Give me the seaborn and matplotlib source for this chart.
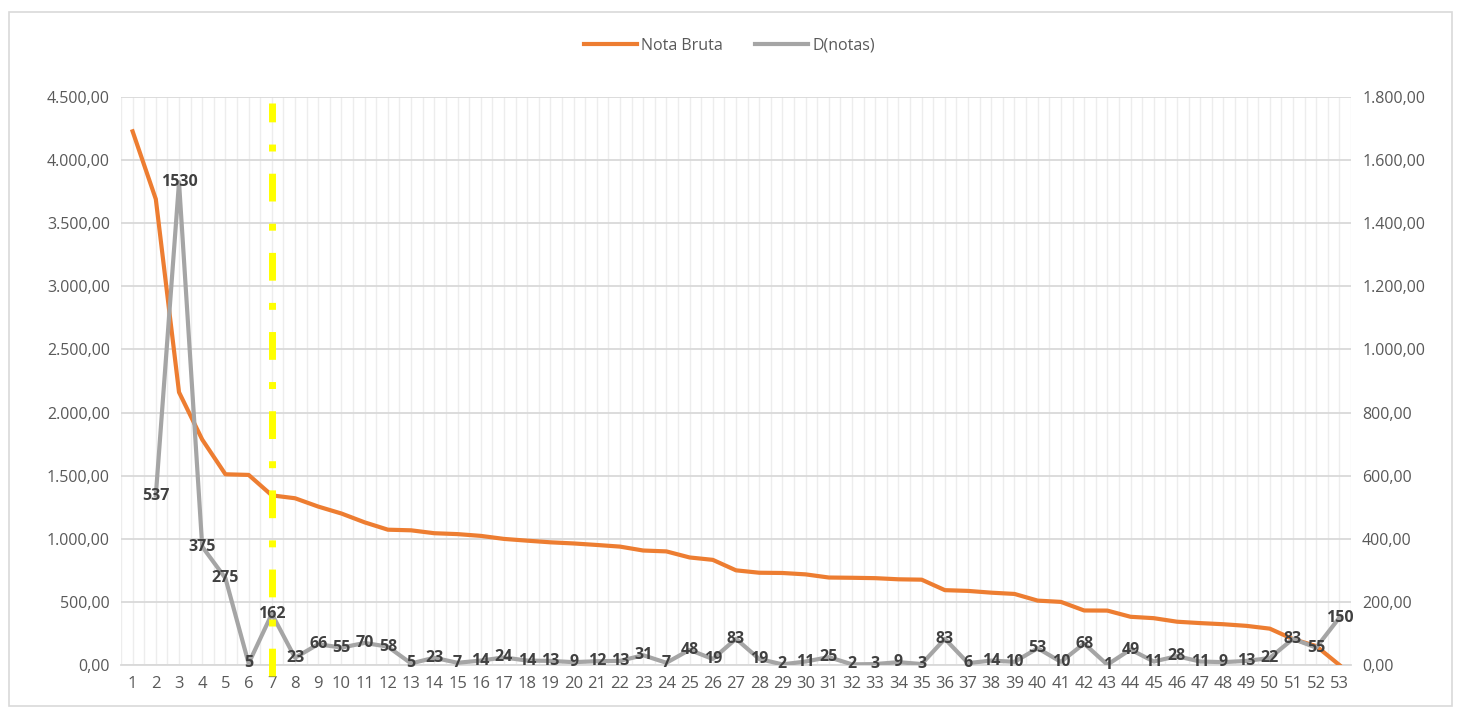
# Nota Bruta vs D(notas), Excel-style combo with secondary axis
import seaborn as sns
import pandas as pd
import matplotlib.pyplot as plt
from matplotlib.patches import Rectangle
from matplotlib.ticker import FuncFormatter, MultipleLocator

posicao = list(range(1, 54))

nota_bruta = [4228, 3691, 2161, 1786, 1511, 1506, 1344, 1321, 1255, 1200,
              1130, 1072, 1067, 1044, 1037, 1023, 999, 985, 972, 963,
              951, 938, 907, 900, 852, 833, 750, 731, 729, 718,
              693, 691, 688, 679, 676, 593, 587, 573, 563, 510,
              500, 432, 431, 382, 371, 343, 332, 323, 310, 288,
              205, 150, 0]

pos_d = list(range(2, 54))
d_notas = [537, 1530, 375, 275, 5, 162, 23, 66, 55, 70,
           58, 5, 23, 7, 14, 24, 14, 13, 9, 12,
           13, 31, 7, 48, 19, 83, 19, 2, 11, 25,
           2, 3, 9, 3, 83, 6, 14, 10, 53, 10,
           68, 1, 49, 11, 28, 11, 9, 13, 22, 83,
           55, 150]

corte = 7

df_nota = pd.DataFrame({"pos": posicao, "nota": nota_bruta})
df_d = pd.DataFrame({"pos": pos_d, "d": d_notas})

orange = '#ED7D31'
grey = '#A5A5A5'
txt = '#595959'

plt.rcParams['font.family'] = ['Open Sans', 'DejaVu Sans']

fig = plt.figure(figsize=(14.59, 7.13), dpi=100)
ax = fig.add_axes([121/1459, 1-665/713, (1351-121)/1459, (665-97)/713])
ax2 = ax.twinx()

# outer chart border
fig.patches.append(Rectangle((9/1459, 1-706/713), 1443/1459, 694/713,
                             transform=fig.transFigure, fill=False,
                             edgecolor='#D9D9D9', linewidth=1.2))

def br_fmt(v, pos):
    s = f"{v:,.2f}"
    return s.replace(',', 'X').replace('.', ',').replace('X', '.')

# gridlines
for xg in [i * 0.5 for i in range(1, 108)]:
    ax.axvline(xg, color='#EDEDED', linewidth=1.0, zorder=0)
ax.set_ylim(0, 4500)
ax.yaxis.set_major_locator(MultipleLocator(500))
ax.yaxis.grid(True, color='#D9D9D9', linewidth=1.3)
ax.set_axisbelow(True)

sns.lineplot(data=df_nota, x="pos", y="nota", ax=ax, color=orange,
             linewidth=3.0, label='Nota Bruta', legend=False, zorder=3)
sns.lineplot(data=df_d, x="pos", y="d", ax=ax2, color=grey,
             linewidth=3.0, label='D(notas)', legend=False, zorder=3)

for xv, yv in zip(pos_d, d_notas):
    ax2.text(xv, yv, str(yv), ha='center', va='center', fontsize=11.5,
             fontweight='bold', color='#404040', zorder=5)

ax2.axvline(corte, ymin=-0.02, ymax=0.99, color='#FFFF00', linewidth=5,
            dashes=(4, 3.2, 1, 3.2), solid_capstyle='butt',
            dash_capstyle='butt', zorder=4, clip_on=False)

ax.set_xlim(0.5, 53.5)
ax.set_xticks(posicao)
ax.set_xticklabels([str(p) for p in posicao])
ax2.set_ylim(0, 1800)
ax2.yaxis.set_major_locator(MultipleLocator(200))
ax.yaxis.set_major_formatter(FuncFormatter(br_fmt))
ax2.yaxis.set_major_formatter(FuncFormatter(br_fmt))

for a in (ax, ax2):
    a.set_xlabel('')
    a.set_ylabel('')
    for s in a.spines.values():
        s.set_visible(False)
    a.tick_params(length=0, labelsize=11.5, labelcolor=txt)
ax.tick_params(axis='y', pad=8)
ax2.tick_params(axis='y', pad=8)
ax.tick_params(axis='x', pad=8, labelsize=12)
ax.spines['bottom'].set_visible(True)
ax.spines['bottom'].set_color('#D9D9D9')
ax.spines['bottom'].set_linewidth(1.3)

h1, l1 = ax.get_legend_handles_labels()
h2, l2 = ax2.get_legend_handles_labels()
fig.legend(h1 + h2, l1 + l2, loc='center', bbox_to_anchor=(0.5, 1-46/713),
           ncol=2, frameon=False, fontsize=11.5, labelcolor=txt,
           handlelength=3.3, handletextpad=0.3, columnspacing=2.0)

fig.savefig('out.png', dpi=100)
